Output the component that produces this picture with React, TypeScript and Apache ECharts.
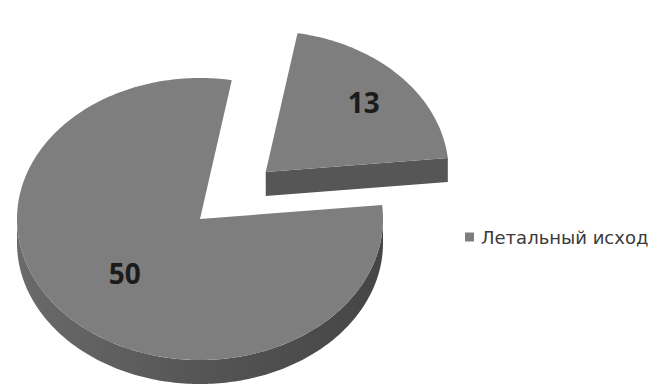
import React, { useEffect, useRef } from 'react';
import * as echarts from 'echarts';

// ---- data ----
const categories = ['Летальный исход', ''];
const values = [13, 50];
const legendItems = ['Летальный исход'];

// ---- layout / style (not data) ----
const CX = 200;
const CY = 219;
const RX = 183;
const RY = 141;
const DEPTH = 24;
const START_ANGLE = 80; // degrees, slices sweep clockwise from here
const EXPLODE = [0.49, 0];
const LABEL_R = [0.73, 0.56];
const TOP_COLOR = '#7e7e7e';
const SIDE_COLOR = '#565656';

export default function App() {
  const ref = useRef<HTMLDivElement>(null);

  useEffect(() => {
    const chart = echarts.init(ref.current as HTMLDivElement, null, { renderer: 'svg' });
    const total = values.reduce((a, b) => a + b, 0);

    const renderItem = (params: any, api: any) => {
      const i = params.dataIndex;
      const v = api.value(0);
      let before = 0;
      for (let k = 0; k < i; k++) before += values[k];
      const a1 = START_ANGLE - (before / total) * 360;
      const a2 = a1 - (v / total) * 360;
      const midR = (((a1 + a2) / 2) * Math.PI) / 180;
      const ox = CX + EXPLODE[i] * RX * Math.cos(midR);
      const oy = CY - EXPLODE[i] * RY * Math.sin(midR);
      const pt = (deg: number, dz = 0) => {
        const r = (deg * Math.PI) / 180;
        return [ox + RX * Math.cos(r), oy - RY * Math.sin(r) + dz];
      };
      const arc = (from: number, to: number, dz = 0) => {
        const pts: number[][] = [];
        const n = Math.max(2, Math.ceil(Math.abs(to - from)));
        for (let s = 0; s <= n; s++) pts.push(pt(from + ((to - from) * s) / n, dz));
        return pts;
      };
      const children: any[] = [];
      const sideGrad = new echarts.graphic.LinearGradient(0, 0, 1, 0, [
        { offset: 0, color: '#6a6a6a' },
        { offset: 0.5, color: '#555555' },
        { offset: 1, color: '#454545' },
      ]);

      // radial faces facing the viewer
      const radial = (ang: number, normal: number) => {
        if (Math.sin((normal * Math.PI) / 180) < -0.5) {
          const p = pt(ang);
          const q = pt(ang, DEPTH);
          children.push({
            type: 'polygon',
            shape: { points: [[ox, oy], p, q, [ox, oy + DEPTH]] },
            style: { fill: SIDE_COLOR },
          });
        }
      };
      radial(a2, a2 - 90);
      radial(a1, a1 + 90);

      // outer wall (front half only)
      for (let k = -3; k <= 2; k++) {
        const lo = Math.max(a2, 180 + 360 * k);
        const hi = Math.min(a1, 360 + 360 * k);
        if (hi > lo) {
          const top = arc(lo, hi);
          const bot = arc(hi, lo, DEPTH);
          children.push({
            type: 'polygon',
            shape: { points: top.concat(bot) },
            style: { fill: sideGrad },
          });
        }
      }

      // top face
      children.push({
        type: 'polygon',
        shape: { points: [[ox, oy]].concat(arc(a1, a2)) },
        style: { fill: TOP_COLOR },
      });

      // label
      children.push({
        type: 'text',
        x: ox + LABEL_R[i] * RX * Math.cos(midR),
        y: oy - LABEL_R[i] * RY * Math.sin(midR),
        style: {
          text: String(v),
          fill: '#1b1b1b',
          fontSize: 28,
          fontWeight: 'bold',
          fontFamily: 'Open Sans',
          align: 'center',
          verticalAlign: 'middle',
        },
      });

      return { type: 'group', children };
    };

    chart.setOption({
      animation: false,
      backgroundColor: '#ffffff',
      legend: {
        data: legendItems,
        left: 465,
        top: 228,
        padding: 0,
        orient: 'vertical',
        icon: 'rect',
        itemWidth: 9,
        itemHeight: 9,
        selectedMode: false,
        textStyle: { fontSize: 18, color: '#3a3a3a', fontFamily: 'DejaVu Sans', padding: [0, 0, 0, 2] },
      },
      series: [
        {
          type: 'custom',
          name: 'Летальный исход',
          coordinateSystem: 'none',
          silent: true,
          itemStyle: { color: TOP_COLOR },
          renderItem,
          data: values.map((v, i) => ({ name: categories[i], value: v })),
        },
      ],
    });

    return () => chart.dispose();
  }, []);

  return (
    <div
      ref={ref}
      style={{ position: 'fixed', left: 0, top: 0, width: 661, height: 387, background: '#fff' }}
    />
  );
}
